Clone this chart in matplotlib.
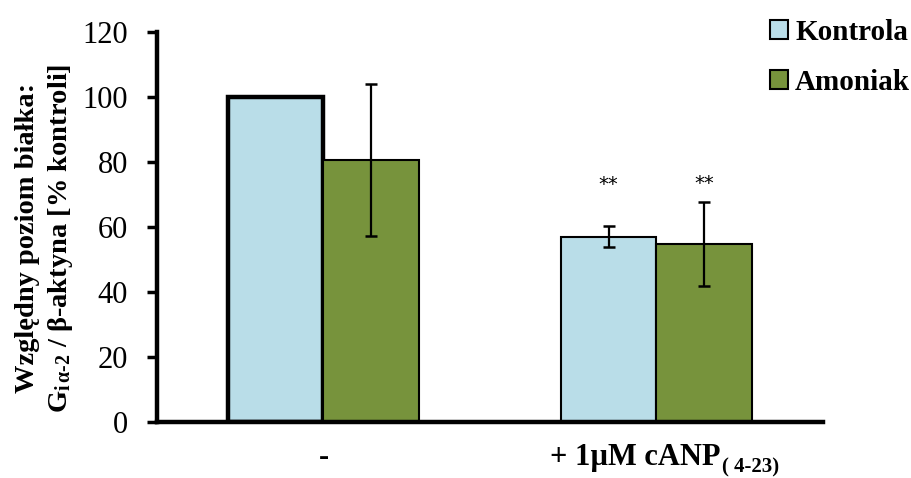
import matplotlib
matplotlib.use('Agg')
import matplotlib.pyplot as plt
import numpy as np

plt.rcParams['font.family'] = ['Liberation Serif', 'DejaVu Serif']
plt.rcParams['mathtext.fontset'] = 'custom'
plt.rcParams['mathtext.rm'] = 'Liberation Serif:bold'
plt.rcParams['mathtext.it'] = 'Liberation Serif:bold:italic'
plt.rcParams['mathtext.bf'] = 'Liberation Serif:bold'

# data
groups = ['-', '+ 1µM cANP']
series = ['Kontrola', 'Amoniak']
kontrola = [100.0, 57.0]
kontrola_err = [0.0, 3.3]
amoniak = [80.6, 54.8]
amoniak_err = [23.5, 12.9]
stars = ['', '**']

c_kon = '#B9DDE8'
c_amo = '#77933C'

fig = plt.figure(figsize=(9.12, 4.78), dpi=100)
ax = fig.add_axes([0.1721, 0.1172, 0.7303, 0.8159])

x = np.arange(len(groups))
w = 0.287
b1 = ax.bar(x - w / 2, kontrola, w, color=c_kon, edgecolor='black', linewidth=1.5, zorder=2)
b2 = ax.bar(x + w / 2, amoniak, w, color=c_amo, edgecolor='black', linewidth=1.5, zorder=2)
# first control bar is drawn with a heavier outline
b1[0].set_linewidth(3.2)

for xs, vals, errs in [(x - w / 2, kontrola, kontrola_err), (x + w / 2, amoniak, amoniak_err)]:
    for xi, v, e in zip(xs, vals, errs):
        if e > 0:
            ax.errorbar(xi, v, yerr=e, fmt='none', ecolor='black', elinewidth=1.6,
                        capsize=4.5, capthick=1.8, zorder=3)

# significance marks
for xi, s in zip(x - w / 2, stars):
    if s:
        ax.text(xi, 73.0, s, ha='center', va='center', fontsize=14, family='DejaVu Sans')
for xi, s in zip(x + w / 2, stars):
    if s:
        ax.text(xi, 73.5, s, ha='center', va='center', fontsize=14, family='DejaVu Sans')

ax.set_xlim(-0.5, 1.5)
ax.set_ylim(0, 120)
ax.set_yticks(np.arange(0, 121, 20))
ax.tick_params(axis='y', labelsize=22, width=2.5, length=7, direction='out', pad=14)
ax.set_xticks([])
for sp in ['top', 'right']:
    ax.spines[sp].set_visible(False)
for sp in ['left', 'bottom']:
    ax.spines[sp].set_linewidth(3.2)

# x category labels
ax.text(0.0, -0.09, groups[0], transform=ax.get_xaxis_transform(), ha='center',
        va='center', fontsize=22, fontweight='bold')
t = ax.text(0.937, -0.09, groups[1], transform=ax.get_xaxis_transform(), ha='center',
            va='center', fontsize=22, fontweight='bold')
ax.annotate('( 4-23)', xy=(1.0, 0), xycoords=t, xytext=(1, -4), textcoords='offset points',
            ha='left', va='bottom', fontsize=15, fontweight='bold')

fig.text(0.049, 0.502,
         'Względny poziom białka:\nG$_{\\mathrm{i\\,\\alpha‐2}}$ / β-aktyna [% kontroli]',
         rotation=90, ha='center', va='center', multialignment='center',
         fontsize=20.5, fontweight='bold', linespacing=1.3)

leg = fig.legend([b1[1], b2[0]], series, loc='upper right', bbox_to_anchor=(1.017, 0.997),
                 frameon=False, handlelength=0.6, handleheight=0.6,
                 handletextpad=0.25, labelspacing=0.78, borderaxespad=0.2,
                 prop={'weight': 'bold', 'size': 21})

fig.savefig('out.png', dpi=100)
